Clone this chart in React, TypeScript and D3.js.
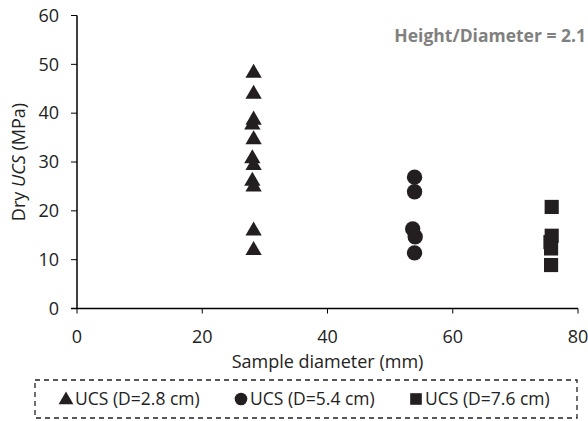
import React from "react";
import * as d3 from "d3";

const W = 588;
const H = 421;

const xTicks = [0, 20, 40, 60, 80];
const yTicks = [0, 10, 20, 30, 40, 50, 60];

const triDiameter = [28.2, 28.2, 28.2, 28.0, 28.2, 28.0, 28.2, 28.0, 28.2, 28.2, 28.2];
const triUCS = [48.2, 43.9, 38.6, 37.6, 34.6, 30.7, 29.3, 26.1, 24.9, 15.9, 11.9];

const circDiameter = [53.9, 53.9, 53.6, 54.0, 53.9];
const circUCS = [26.9, 23.9, 16.3, 14.7, 11.4];

const sqDiameter = [75.8, 75.8, 75.6, 75.7, 75.7];
const sqUCS = [20.8, 14.9, 13.6, 12.3, 8.9];

const legendLabels = ["UCS (D=2.8 cm)", "UCS (D=5.4 cm)", "UCS (D=7.6 cm)"];

const FONT = "'Open Sans', 'Liberation Sans', sans-serif";
const MARK = "#231f20";
const TXT = "#222";

export default function App() {
  const x = d3.scaleLinear().domain([0, 80]).range([77, 578]);
  const y = d3.scaleLinear().domain([0, 60]).range([308.5, 15.5]);
  const tri = d3.symbol().type(d3.symbolTriangle).size(115)();
  const circ = d3.symbol().type(d3.symbolCircle).size(185)();
  const sq = d3.symbol().type(d3.symbolSquare).size(200)();
  const triS = d3.symbol().type(d3.symbolTriangle).size(95)();
  const circS = d3.symbol().type(d3.symbolCircle).size(125)();
  const sqS = d3.symbol().type(d3.symbolSquare).size(135)();

  const legendX = [66, 241, 416];

  return (
    <svg width={W} height={H} style={{ position: "absolute", left: 0, top: 0, background: "#fff" }} fontFamily={FONT}>
      {/* axes */}
      <line x1={x(0)} x2={x(0)} y1={y(60)} y2={y(0)} stroke="#000" strokeWidth={1.5} />
      <line x1={x(0) - 6} x2={x(80)} y1={y(0)} y2={y(0)} stroke="#000" strokeWidth={1.5} />
      {yTicks.map((t) => (
        <g key={"y" + t}>
          <line x1={x(0) - 6} x2={x(0)} y1={y(t)} y2={y(t)} stroke="#000" strokeWidth={1} />
          <text x={59} y={y(t)} dy="0.35em" textAnchor="end" fontSize={18} fill={TXT}>{t}</text>
        </g>
      ))}
      {xTicks.map((t) => (
        <g key={"x" + t}>
          <line x1={x(t)} x2={x(t)} y1={y(0)} y2={y(0) + 5} stroke="#000" strokeWidth={1} />
          <text x={x(t)} y={337} dy="0.35em" textAnchor="middle" fontSize={18} fill={TXT}>{t}</text>
        </g>
      ))}
      <text x={x(40)} y={362} dy="0.35em" textAnchor="middle" fontSize={18} fill={TXT}>Sample diameter (mm)</text>
      <text transform={`translate(19,${y(30)}) rotate(-90)`} textAnchor="middle" dy="0.35em" fontSize={18} fill={TXT}>
        Dry <tspan fontStyle="italic">UCS</tspan> (MPa)
      </text>
      <text x={586} y={36} dy="0.35em" textAnchor="end" fontSize={17.5} fontWeight="bold" fill="#808080">Height/Diameter = 2.1</text>

      {/* data */}
      {triUCS.map((v, i) => (
        <path key={"t" + i} d={tri} transform={`translate(${x(triDiameter[i])},${y(v)})`} fill={MARK} />
      ))}
      {circUCS.map((v, i) => (
        <path key={"c" + i} d={circ} transform={`translate(${x(circDiameter[i])},${y(v)})`} fill={MARK} />
      ))}
      {sqUCS.map((v, i) => (
        <path key={"s" + i} d={sq} transform={`translate(${x(sqDiameter[i])},${y(v)})`} fill={MARK} />
      ))}

      {/* legend */}
      <rect x={35} y={380} width={542} height={38} fill="none" stroke="#222" strokeWidth={1.3} strokeDasharray="5,4" />
      <path d={triS} transform={`translate(${legendX[0]},${400})`} fill={MARK} />
      <path d={circS} transform={`translate(${legendX[1]},${399})`} fill={MARK} />
      <path d={sqS} transform={`translate(${legendX[2]},${399})`} fill={MARK} />
      {legendLabels.map((l, i) => (
        <text key={l} x={legendX[i] + 9} y={399} dy="0.35em" fontSize={17.5} fill={TXT}>{l}</text>
      ))}
    </svg>
  );
}
